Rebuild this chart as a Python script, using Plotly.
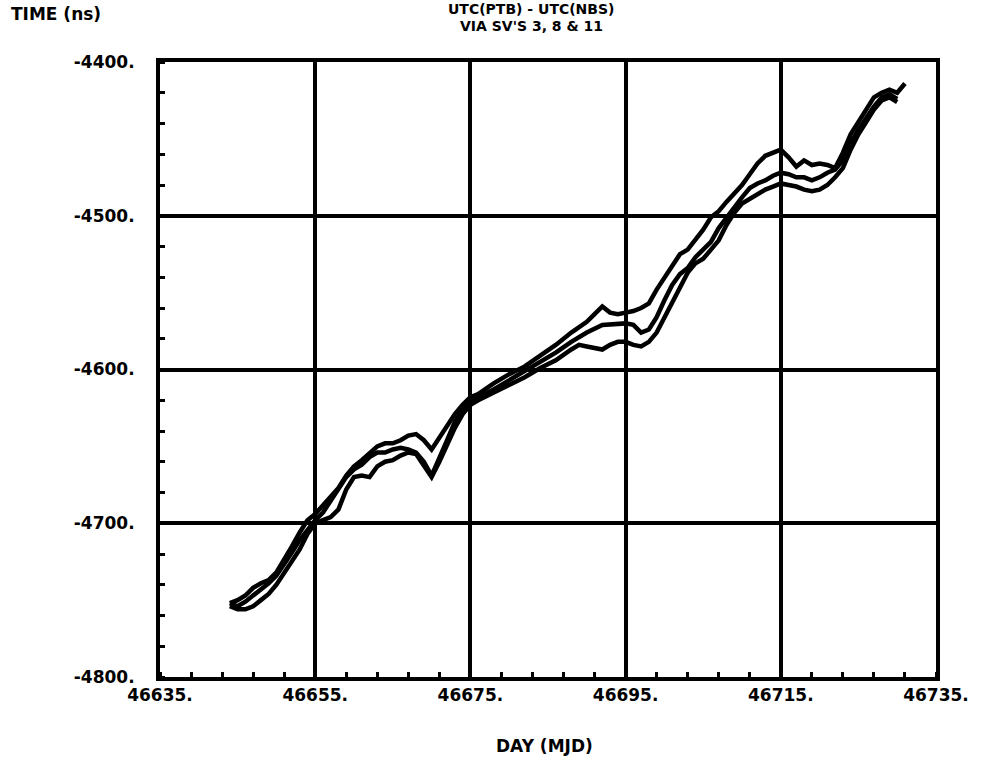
import plotly.graph_objects as go

# Day (MJD) and time values (ns)
days_a = [46644, 46645, 46646, 46647, 46648, 46649, 46650, 46651, 46652, 46653, 46654, 46655, 46656, 46657, 46658, 46659, 46660, 46661, 46662, 46663, 46664, 46665, 46666, 46667, 46668, 46669, 46670, 46671, 46672, 46673, 46674, 46675, 46676, 46678, 46680, 46682, 46684, 46686, 46688, 46690, 46691, 46692, 46693, 46694, 46695, 46696, 46697, 46698, 46699, 46700, 46701, 46702, 46703, 46704, 46705, 46706, 46707, 46708, 46709, 46710, 46711, 46712, 46713, 46714, 46715, 46716, 46717, 46718, 46719, 46720, 46721, 46722, 46723, 46724, 46725, 46726, 46727, 46728, 46729, 46730, 46731]
time_a = [-4752, -4750, -4747, -4742, -4739, -4737, -4732, -4724, -4715, -4706, -4698, -4694, -4688, -4682, -4677, -4669, -4663, -4659, -4654, -4650, -4648, -4648, -4646, -4643, -4642, -4646, -4652, -4644, -4636, -4629, -4623, -4618, -4616, -4609, -4603, -4598, -4591, -4584, -4576, -4569, -4564, -4559, -4563, -4564, -4563, -4562, -4560, -4557, -4548, -4540, -4532, -4525, -4522, -4516, -4509, -4501, -4497, -4491, -4486, -4480, -4473, -4466, -4461, -4459, -4457, -4462, -4468, -4464, -4467, -4466, -4467, -4469, -4459, -4447, -4439, -4431, -4423, -4420, -4418, -4420, -4414]

days_b = [46644, 46645, 46646, 46647, 46648, 46649, 46650, 46651, 46652, 46653, 46654, 46655, 46656, 46657, 46658, 46659, 46660, 46661, 46662, 46663, 46664, 46665, 46666, 46667, 46668, 46669, 46670, 46671, 46672, 46673, 46674, 46675, 46676, 46678, 46680, 46682, 46684, 46686, 46688, 46690, 46692, 46694, 46695, 46696, 46697, 46698, 46699, 46700, 46701, 46702, 46703, 46704, 46705, 46706, 46707, 46708, 46709, 46710, 46711, 46712, 46713, 46714, 46715, 46716, 46717, 46718, 46719, 46720, 46721, 46722, 46723, 46724, 46725, 46726, 46727, 46728, 46729, 46730]
time_b = [-4752, -4754, -4751, -4747, -4743, -4739, -4734, -4727, -4719, -4711, -4704, -4698, -4693, -4685, -4678, -4670, -4665, -4662, -4657, -4654, -4654, -4652, -4651, -4652, -4654, -4660, -4669, -4658, -4646, -4634, -4626, -4621, -4618, -4613, -4607, -4601, -4595, -4589, -4582, -4576, -4571, -4570, -4570, -4571, -4576, -4574, -4566, -4555, -4545, -4538, -4534, -4527, -4522, -4517, -4508, -4501, -4494, -4488, -4482, -4479, -4477, -4474, -4472, -4473, -4475, -4475, -4477, -4475, -4472, -4470, -4464, -4453, -4444, -4436, -4429, -4423, -4421, -4424]

days_c = [46644, 46645, 46646, 46647, 46648, 46649, 46650, 46651, 46652, 46653, 46654, 46655, 46656, 46657, 46658, 46659, 46660, 46661, 46662, 46663, 46664, 46665, 46666, 46667, 46668, 46669, 46670, 46671, 46672, 46673, 46674, 46675, 46676, 46678, 46680, 46682, 46684, 46686, 46688, 46689, 46690, 46691, 46692, 46693, 46694, 46695, 46696, 46697, 46698, 46699, 46700, 46701, 46702, 46703, 46704, 46705, 46706, 46707, 46708, 46709, 46710, 46711, 46712, 46713, 46714, 46715, 46716, 46717, 46718, 46719, 46720, 46721, 46722, 46723, 46724, 46725, 46726, 46727, 46728, 46729, 46730]
time_c = [-4754, -4756, -4756, -4754, -4750, -4746, -4740, -4732, -4725, -4717, -4707, -4700, -4698, -4696, -4691, -4678, -4670, -4669, -4670, -4663, -4660, -4659, -4656, -4654, -4655, -4662, -4670, -4660, -4649, -4638, -4629, -4623, -4620, -4615, -4610, -4605, -4599, -4594, -4587, -4584, -4585, -4586, -4587, -4584, -4582, -4582, -4584, -4585, -4582, -4576, -4566, -4556, -4546, -4537, -4531, -4528, -4522, -4516, -4506, -4498, -4492, -4489, -4486, -4483, -4481, -4479, -4480, -4481, -4483, -4484, -4483, -4480, -4475, -4469, -4457, -4447, -4439, -4431, -4425, -4423, -4426]

x_ticks = [46635, 46655, 46675, 46695, 46715, 46735]
x_tick_text = ["46635.", "46655.", "46675.", "46695.", "46715.", "46735."]
y_ticks = [-4800, -4700, -4600, -4500, -4400]
y_tick_text = ["-4800.", "-4700.", "-4600.", "-4500.", "-4400."]

FONT = "DejaVu Sans"
TXT = dict(family=FONT, size=17, color="black", weight="bold")
TITLE_TXT = dict(family=FONT, size=14, color="black", weight="bold")

fig = go.Figure()
for xs, ys in [(days_a, time_a), (days_b, time_b), (days_c, time_c)]:
    fig.add_trace(go.Scatter(x=xs, y=ys, mode="lines",
                             line=dict(color="black", width=4.5),
                             showlegend=False, hoverinfo="skip"))

axis_common = dict(
    showline=True, linecolor="black", linewidth=4, mirror=True,
    showgrid=True, gridcolor="black", gridwidth=3.5,
    zeroline=False, ticks="",
    tickfont=TXT,
)

fig.update_xaxes(
    range=[46635, 46735], tickmode="array", tickvals=x_ticks, ticktext=x_tick_text,
    minor=dict(dtick=4, tick0=46635, ticks="inside", ticklen=5, tickwidth=2.5,
               tickcolor="black", showgrid=False),
    ticklabelstandoff=0,
    **axis_common,
)
fig.update_yaxes(
    range=[-4800, -4400], tickmode="array", tickvals=y_ticks, ticktext=y_tick_text,
    minor=dict(dtick=20, tick0=-4800, ticks="inside", ticklen=5, tickwidth=2.5,
               tickcolor="black", showgrid=False),
    ticklabelstandoff=18,
    **axis_common,
)

fig.update_layout(
    width=981, height=763,
    margin=dict(l=160, r=38, t=62, b=86),
    paper_bgcolor="white", plot_bgcolor="white",
    annotations=[
        dict(text="UTC(PTB) - UTC(NBS)", x=0.479, y=1.086, xref="paper", yref="paper",
             xanchor="center", yanchor="middle", showarrow=False, font=TITLE_TXT),
        dict(text="VIA SV'S 3, 8 & 11", x=0.479, y=1.058, xref="paper", yref="paper",
             xanchor="center", yanchor="middle", showarrow=False, font=TITLE_TXT),
        dict(text="TIME (ns)", x=-0.194, y=1.078, xref="paper", yref="paper",
             xanchor="left", yanchor="middle", showarrow=False, font=TXT),
        dict(text="DAY (MJD)", x=0.495, y=-0.112, xref="paper", yref="paper",
             xanchor="center", yanchor="middle", showarrow=False, font=TXT),
    ],
)

fig.write_html("out.html")
